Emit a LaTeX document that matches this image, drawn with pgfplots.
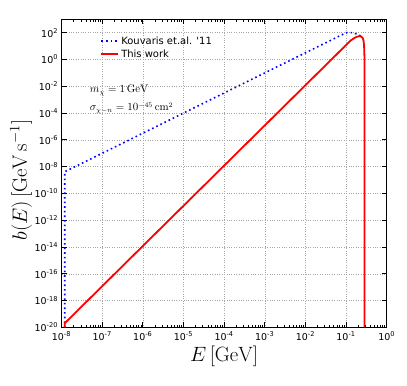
\documentclass[border=0pt]{standalone}
\usepackage[no-math]{fontspec}
\setmainfont{DejaVu Sans}
\usepackage{pgfplots}
\pgfplotsset{compat=1.18}
\usetikzlibrary{calc}

\definecolor{mplblue}{rgb}{0,0,1}
\definecolor{mplred}{rgb}{1,0,0}

\begin{document}
\begin{tikzpicture}
\begin{axis}[
  name=ax,
  scale only axis,
  width=325bp, height=308bp,
  xmode=log, ymode=log,
  xmin=1e-8, xmax=1,
  ymin=1e-20, ymax=1e3,
  xtick={1e-8,1e-7,1e-6,1e-5,1e-4,1e-3,1e-2,1e-1,1},
  xticklabels={10\textsuperscript{-8},10\textsuperscript{-7},10\textsuperscript{-6},10\textsuperscript{-5},10\textsuperscript{-4},10\textsuperscript{-3},10\textsuperscript{-2},10\textsuperscript{-1},10\textsuperscript{0}},
  ytick={1e-20,1e-18,1e-16,1e-14,1e-12,1e-10,1e-8,1e-6,1e-4,1e-2,1,1e2},
  yticklabels={10\textsuperscript{-20},10\textsuperscript{-18},10\textsuperscript{-16},10\textsuperscript{-14},10\textsuperscript{-12},10\textsuperscript{-10},10\textsuperscript{-8},10\textsuperscript{-6},10\textsuperscript{-4},10\textsuperscript{-2},10\textsuperscript{0},10\textsuperscript{2}},
  yminorticks=false,
  tick label style={font=\fontsize{9.5}{11}\selectfont},
  xticklabel style={yshift=-1bp},
  tick align=inside,
  major tick length=5bp,
  minor tick length=2.5bp,
  tick style={black, line width=0.8bp},
  axis line style={line width=1.5bp},
  grid=major,
  major grid style={gray!70, dotted, line width=0.5bp},
  xlabel={$E\,[\mathrm{GeV}]$},
  ylabel={$b(E)\,[\mathrm{GeV\,s^{-1}}]$},
  xlabel style={font=\fontsize{22}{26}\selectfont, at={(rel axis cs:0.5,-0.095)}, anchor=center},
  ylabel style={font=\fontsize{22}{26}\selectfont, at={(rel axis cs:-0.1246,0.478)}, anchor=center},
  legend style={draw=none, fill=none, at={(rel axis cs:0.11,0.958)}, anchor=north west,
    font=\fontsize{10}{12}\selectfont, row sep=0bp, cells={anchor=west}},
  legend cell align=left,
  clip=true,
]

% Kouvaris et al. '11
\addplot[color=mplblue, line width=1.6bp, dash pattern=on 1.6bp off 3bp] coordinates {
  (1.2e-8,1e-20) (1.2e-8,4.2e-9) (1e-7,1e-7) (1e-6,3.16e-6) (1e-5,1e-4)
  (1e-4,3.16e-3) (1e-3,0.1) (1e-2,3.16) (0.05,35) (0.1,100) (0.15,102) (0.23,58)
};
\addlegendentry{Kouvaris et.al. \textquotesingle 11}

% This work
\addplot[color=mplred, line width=1.8bp] coordinates {
  (1.2e-8,1e-20) (1.2e-8,2.07e-20) (1e-7,1.2e-17) (1e-6,1.2e-14) (1e-5,1.2e-11)
  (1e-4,1.2e-8) (1e-3,1.2e-5) (1e-2,1.2e-2) (0.05,1.5) (0.1,12) (0.13,26)
  (0.16,40) (0.185,50) (0.21,55) (0.235,52) (0.255,42) (0.27,25) (0.278,10)
  (0.283,2) (0.2852,0.1) (0.2858,1e-4) (0.286,1e-10) (0.286,1e-20)
};
\addlegendentry{This work}

\node[anchor=west, font=\fontsize{10.5}{12.5}\selectfont] at (axis cs:4.1e-8,5.1e-3) {$m_\chi = 1\,\mathrm{GeV}$};
\node[anchor=west, font=\fontsize{10.5}{12.5}\selectfont] at (axis cs:4.1e-8,2.3e-4) {$\sigma_{\chi-n} = 10^{-45}\,\mathrm{cm}^2$};

\end{axis}
\path ($(ax.south west)+(-61.5bp,-58.3bp)$) rectangle ($(ax.north east)+(20.3bp,19.3bp)$);
\end{tikzpicture}
\end{document}
